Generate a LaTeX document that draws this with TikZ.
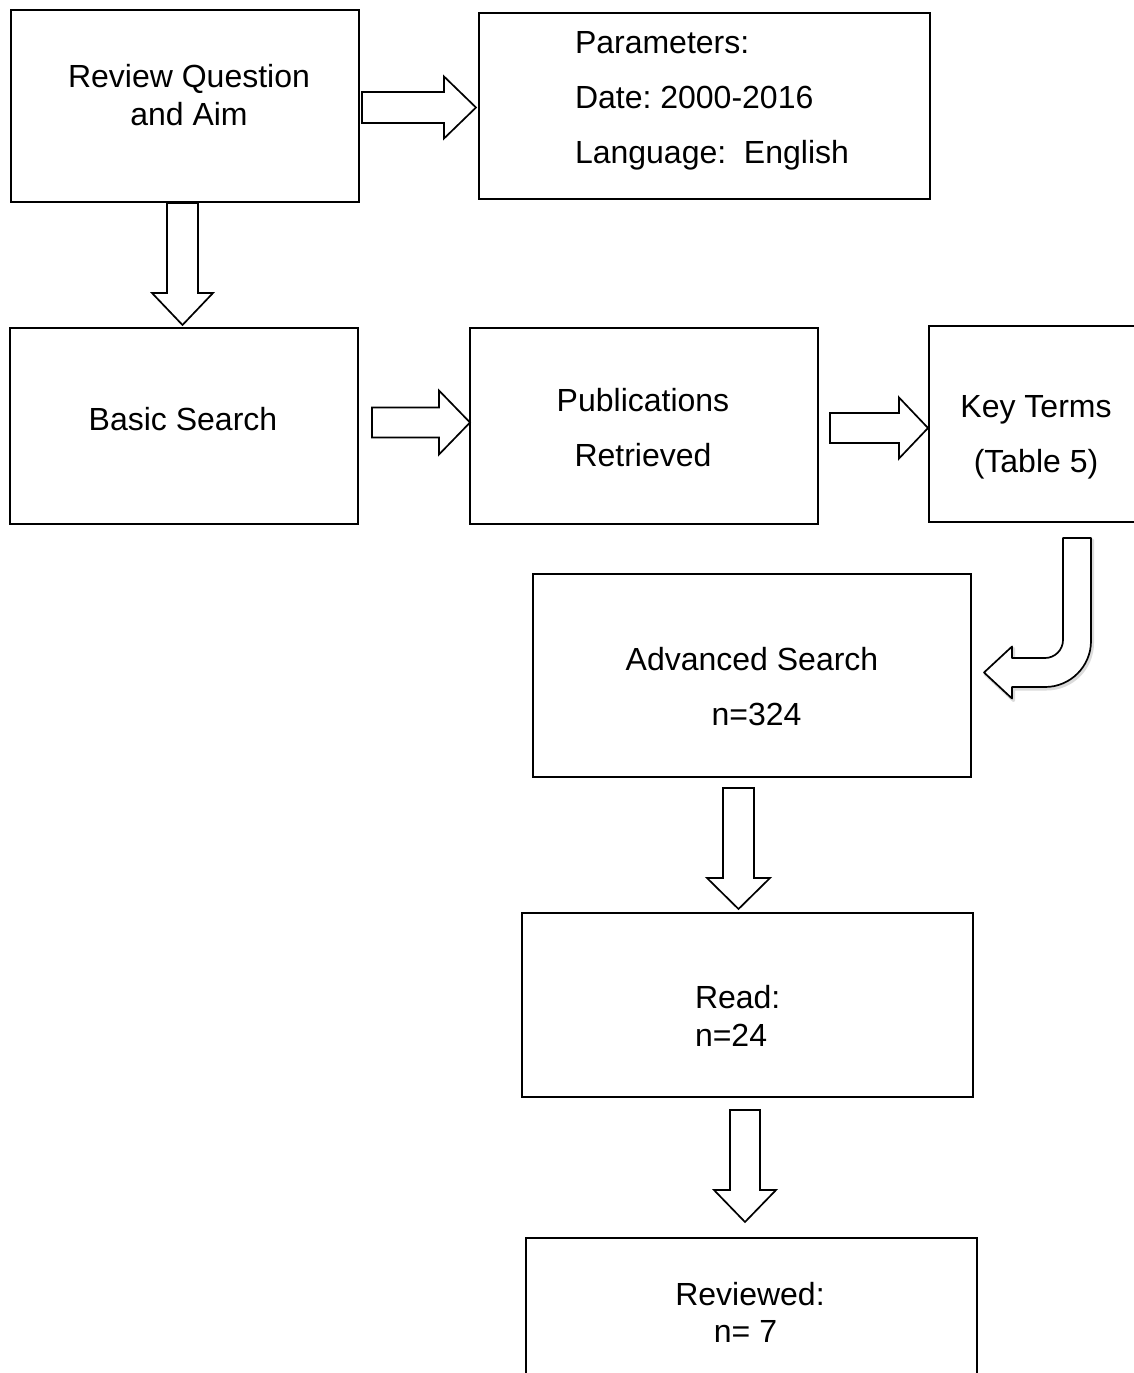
\documentclass[tikz,border=0pt]{standalone}
\usepackage{fontspec}
\setmainfont{Liberation Sans}
\usetikzlibrary{calc}
\frenchspacing

\tikzset{
  box/.style={draw=black, line width=1.8pt, fill=white, inner sep=0pt, outer sep=0pt},
  lbl/.style={inner sep=0pt, outer sep=0pt, font=\fontsize{32}{38}\selectfont},
  barrow/.style={draw=black, line width=1.7pt, fill=white, line join=miter},
}

% block arrow pointing right: start x, tip x, centre y, shaft half, head half, head length
\newcommand{\blockright}[6]{%
  \draw[barrow] ({#1},{#3-#4}) -- ({#2-#6},{#3-#4}) -- ({#2-#6},{#3-#5}) -- ({#2},{#3})
    -- ({#2-#6},{#3+#5}) -- ({#2-#6},{#3+#4}) -- ({#1},{#3+#4}) -- cycle;}
% block arrow pointing down: centre x, start y, tip y, shaft half, head half, head length
\newcommand{\blockdown}[6]{%
  \draw[barrow] ({#1-#4},{#2}) -- ({#1-#4},{#3-#6}) -- ({#1-#5},{#3-#6}) -- ({#1},{#3})
    -- ({#1+#5},{#3-#6}) -- ({#1+#4},{#3-#6}) -- ({#1+#4},{#2}) -- cycle;}

\begin{document}
\begin{tikzpicture}[x=1pt, y=-1pt]
\useasboundingbox[fill=white] (0,0) rectangle (1133,1373);

% boxes
\node[box, minimum width=348pt, minimum height=192pt] (A) at (185,106) {};
\node[box, minimum width=451pt, minimum height=186pt] (B) at (704.5,106) {};
\node[box, minimum width=348pt, minimum height=196pt] (C) at (184,426) {};
\node[box, minimum width=348pt, minimum height=196pt] (D) at (644,426) {};
\node[box, minimum width=214pt, minimum height=196pt] (E) at (1036,424) {};
\node[box, minimum width=438pt, minimum height=203pt] (F) at (752,675.5) {};
\node[box, minimum width=451pt, minimum height=184pt] (G) at (747.5,1005) {};
\node[box, minimum width=451pt, minimum height=170pt] (H) at (751.5,1323) {};

% texts
\node[lbl, anchor=base] (tA1) at (189,87) {Review Question};
\node[lbl, anchor=base] (tA2) at (189,125) {and Aim};
\node[lbl, anchor=base west] (tB1) at (575,53) {Parameters:};
\node[lbl, anchor=base west] (tB2) at (575,108) {Date: 2000-2016};
\node[lbl, anchor=base west] (tB3) at (575,163) {Language:\ \ English};
\node[lbl, anchor=base] (tC) at (183,430) {Basic Search};
\node[lbl, anchor=base] (tD1) at (643,411) {Publications};
\node[lbl, anchor=base] (tD2) at (643,466) {Retrieved};
\node[lbl, anchor=base] (tE1) at (1036,417) {Key Terms};
\node[lbl, anchor=base] (tE2) at (1036,472) {(Table 5)};
\node[lbl, anchor=base] (tF1) at (752,670) {Advanced Search};
\node[lbl, anchor=base] (tF2) at (756.5,725) {n=324};
\node[lbl, anchor=base west] (tG1) at (695,1008) {Read:};
\node[lbl, anchor=base west] (tG2) at (695,1046) {n=24};
\node[lbl, anchor=base] (tH1) at (750,1305) {Reviewed:};
\node[lbl, anchor=base] (tH2) at (745.5,1342) {n=\ 7};

% block arrows between the boxes
\blockright{362}{476}{107.5}{15.5}{31}{32}
\blockdown{182.5}{203}{325}{15.5}{30.5}{32}
\blockright{372}{470}{422.5}{15}{32}{31}
\blockright{830}{928}{428}{15}{30.5}{29}
\blockdown{738.5}{788}{909}{15.5}{31.5}{31}
\blockdown{745}{1110}{1222}{15}{31}{32}

% curved arrow from the key terms down to the advanced search
\def\bentpath{(1091,538) -- (1091,641)
  .. controls (1091,666.4) and (1070.4,687) .. (1045,687)
  -- (1012,687) -- (1012,698.5) -- (984,672.5) -- (1012,646.5) -- (1012,658)
  -- (1045,658) .. controls (1054.9,658) and (1063,649.9) .. (1063,640)
  -- (1063,538) -- cycle}
\draw[draw=black!14, line width=3pt, line join=round, shift={(1.5,2)}] \bentpath;
\draw[barrow, line join=round] \bentpath;
\end{tikzpicture}
\end{document}
